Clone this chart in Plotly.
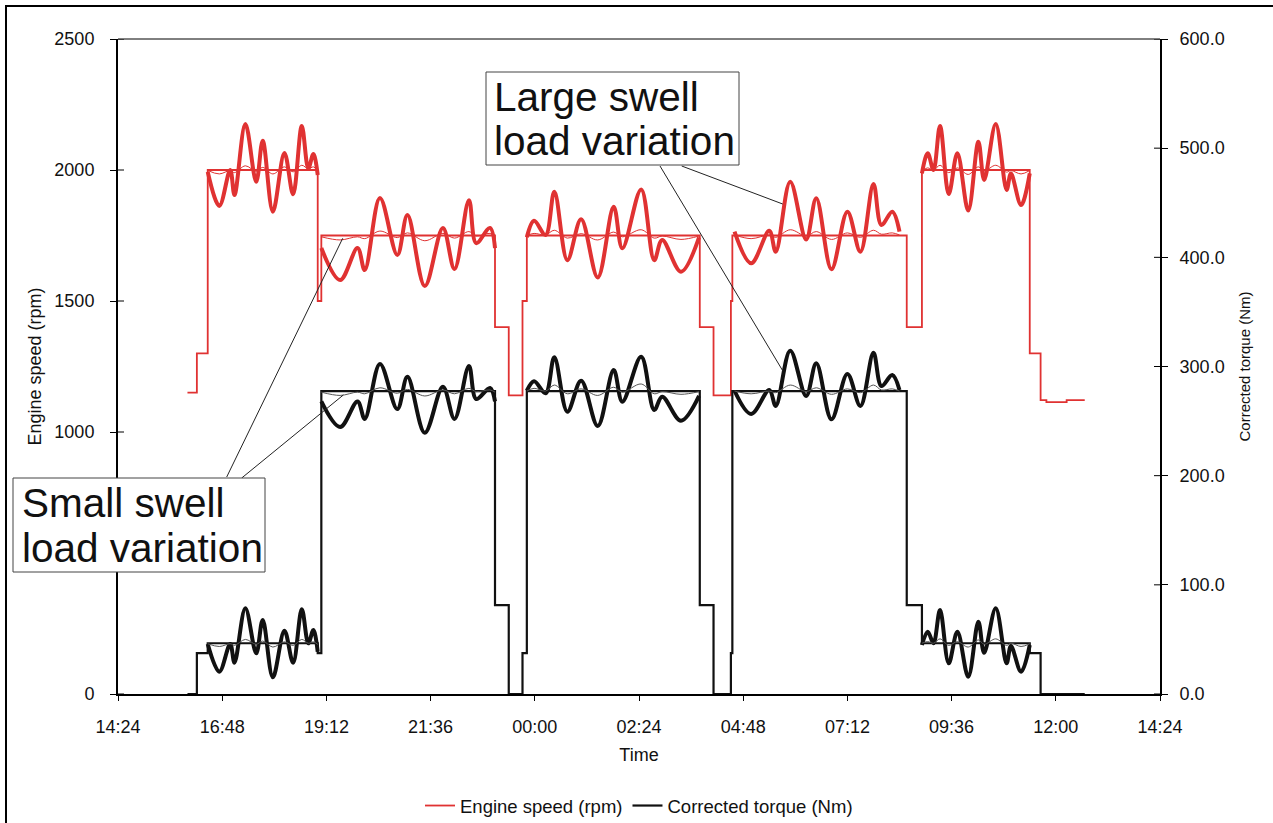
import datetime as dt
import plotly.graph_objects as go

# ---------------- data ----------------
TICK_LABELS = ["14:24", "16:48", "19:12", "21:36", "00:00", "02:24",
               "04:48", "07:12", "09:36", "12:00", "14:24"]
SPEED_TICKS = [0, 500, 1000, 1500, 2000, 2500]
SPEED_TICK_TEXT = ["0", "", "1000", "1500", "2000", "2500"]   # 500 sits under the callout box
TORQUE_TICKS = [0, 100, 200, 300, 400, 500, 600]

# set-point schedule (step changes)
STEP_TIME = ["16:00", "16:13", "16:28", "19:00", "19:05", "23:05", "23:24", "23:43",
             "23:49", "03:48", "04:07", "04:31", "04:33", "08:34", "08:55", "11:24",
             "11:39", "11:47", "12:15", "12:40"]
SPEED_STEP = [1150, 1300, 2000, 1500, 1750, 1400, 1140, 1500,
              1750, 1400, 1140, 1500, 1750, 1400, 2000, 1300,
              1122, 1114, 1122, 1122]
TORQUE_STEP = [0, 37.5, 46.5, 37.5, 277.5, 81.5, 0, 37.5,
               277.5, 81.5, 0, 37.5, 277.5, 81.5, 46.5, 37.5,
               0, 0, 0, 0]

# swell load variation, plateau A (2000 rpm)
TIME_A = ["16:28", "16:44", "16:59", "17:05", "17:20", "17:35", "17:44",
          "17:58", "18:14", "18:26", "18:38", "18:47", "18:54", "19:00"]
SPEED_LARGE_A = [1993, 1863, 2000, 1905, 2176, 1955, 2112, 1841, 2065, 1907, 2168, 2006, 2061, 1981]
SPEED_SMALL_A = [1998, 1985, 1998, 1990, 2016, 1995, 2010, 1985, 2012, 1993, 2018, 2004, 2012, 1998]
TORQUE_LARGE_A = [45.8, 20.4, 45.8, 28.7, 78.5, 37.3, 67.8, 15.3, 58.0, 28.7, 77.6, 46.4, 58.6, 38.7]
TORQUE_SMALL_A = [46.0, 43.5, 46.0, 44.5, 50.0, 45.5, 48.5, 43.0, 47.8, 44.5, 50.0, 46.5, 47.8, 45.5]

# plateau B (1750 rpm)
TIME_B = ["19:05", "19:31", "19:55", "20:05", "20:26", "20:50", "21:04",
          "21:28", "21:53", "22:09", "22:29", "22:39", "22:58", "23:05"]
SPEED_LARGE_B = [1702, 1580, 1702, 1618, 1893, 1676, 1828, 1557, 1779, 1622, 1885, 1721, 1779, 1702]
SPEED_SMALL_B = [1745, 1733, 1745, 1738, 1767, 1742, 1760, 1730, 1758, 1740, 1765, 1748, 1758, 1745]
TORQUE_LARGE_B = [268.0, 244.6, 268.0, 252.0, 302.4, 261.0, 290.6, 239.3, 281.4, 252.0, 300.5, 270.2, 280.3, 268.0]
TORQUE_SMALL_B = [276.5, 273.5, 276.5, 275.0, 280.5, 275.5, 279.0, 273.0, 278.5, 275.0, 280.0, 277.0, 278.5, 276.5]

# plateau C (1750 rpm)
TIME_C = ["23:49", "23:59", "00:15", "00:27", "00:45", "01:04", "01:27",
          "01:49", "02:01", "02:27", "02:45", "02:56", "03:22", "03:47"]
SPEED_LARGE_C = [1743, 1806, 1752, 1917, 1656, 1812, 1590, 1860, 1701, 1926, 1656, 1733, 1612, 1743]
SPEED_SMALL_C = [1750, 1758, 1752, 1770, 1740, 1757, 1733, 1763, 1745, 1772, 1740, 1748, 1735, 1748]
TORQUE_LARGE_C = [277.8, 286.5, 275.5, 308.4, 258.6, 287.0, 245.5, 296.8, 267.8, 309.0, 260.1, 272.3, 250.3, 273.0]
TORQUE_SMALL_C = [277.5, 280.0, 277.5, 283.0, 275.0, 279.5, 273.5, 281.0, 276.5, 284.0, 275.0, 277.0, 274.5, 277.0]

# plateau D (1750 rpm)
TIME_D = ["04:36", "04:59", "05:24", "05:33", "05:53", "06:15", "06:29",
          "06:50", "07:12", "07:30", "07:48", "07:59", "08:14", "08:24"]
SPEED_LARGE_D = [1765, 1644, 1768, 1688, 1955, 1735, 1892, 1621, 1841, 1688, 1947, 1790, 1841, 1765]
SPEED_SMALL_D = [1752, 1738, 1752, 1743, 1772, 1748, 1765, 1735, 1760, 1743, 1770, 1755, 1760, 1752]
TORQUE_LARGE_D = [277.8, 256.5, 278.5, 263.8, 314.5, 273.0, 302.9, 251.6, 293.1, 263.8, 312.6, 282.1, 292.2, 278.5]
TORQUE_SMALL_D = [277.5, 275.0, 277.5, 276.0, 283.0, 277.0, 280.5, 274.5, 279.5, 276.0, 283.0, 278.5, 279.5, 277.5]

# plateau E (2000 rpm)
TIME_E = ["08:55", "09:03", "09:11", "09:20", "09:32", "09:44", "09:59",
          "10:13", "10:21", "10:37", "10:52", "10:58", "11:12", "11:24"]
SPEED_LARGE_E = [1987, 2064, 2000, 2168, 1908, 2064, 1845, 2108, 1962, 2176, 1924, 1987, 1866, 1987]
SPEED_SMALL_E = [1998, 2008, 2000, 2018, 1990, 2008, 1983, 2012, 1996, 2018, 1992, 1998, 1985, 1998]
TORQUE_LARGE_E = [44.9, 57.1, 46.4, 76.9, 28.1, 57.1, 15.8, 66.2, 37.8, 78.5, 28.1, 44.0, 20.4, 44.9]
TORQUE_SMALL_E = [46.5, 48.0, 46.5, 50.5, 44.5, 48.0, 43.0, 49.5, 45.5, 50.5, 44.5, 46.5, 43.5, 46.0]

# ---------------- helpers ----------------
START = dt.datetime(2013, 5, 1, 14, 24)


def to_dt(hhmm):
    h, m = map(int, hhmm.split(":"))
    t = dt.datetime(2013, 5, 1, h, m)
    if t < START:
        t += dt.timedelta(days=1)
    return t


def join(times_list, values_list):
    xs, ys = [], []
    for times, vals in zip(times_list, values_list):
        xs += [to_dt(t) for t in times] + [None]
        ys += list(vals) + [None]
    return xs, ys


PLATEAU_TIMES = [TIME_A, TIME_B, TIME_C, TIME_D, TIME_E]

RED = "#e03232"
BLACK = "#111111"

fig = go.Figure()

# large swell (thick)
x, y = join(PLATEAU_TIMES, [SPEED_LARGE_A, SPEED_LARGE_B, SPEED_LARGE_C, SPEED_LARGE_D, SPEED_LARGE_E])
fig.add_trace(go.Scatter(x=x, y=y, mode="lines", line=dict(color=RED, width=4, shape="spline", smoothing=1.0),
                         showlegend=False, connectgaps=False, hoverinfo="skip"))
x, y = join(PLATEAU_TIMES, [TORQUE_LARGE_A, TORQUE_LARGE_B, TORQUE_LARGE_C, TORQUE_LARGE_D, TORQUE_LARGE_E])
fig.add_trace(go.Scatter(x=x, y=y, yaxis="y2", mode="lines",
                         line=dict(color=BLACK, width=4, shape="spline", smoothing=1.0),
                         showlegend=False, connectgaps=False, hoverinfo="skip"))

# set-point steps
step_x = [to_dt(t) for t in STEP_TIME]
fig.add_trace(go.Scatter(x=step_x, y=SPEED_STEP, mode="lines", name="Engine speed (rpm)",
                         line=dict(color=RED, width=1.8, shape="hv"), legendrank=1))
fig.add_trace(go.Scatter(x=step_x, y=TORQUE_STEP, yaxis="y2", mode="lines", name="Corrected torque (Nm)",
                         line=dict(color=BLACK, width=2.2, shape="hv"), legendrank=2))

# small swell (thin)
x, y = join(PLATEAU_TIMES, [SPEED_SMALL_A, SPEED_SMALL_B, SPEED_SMALL_C, SPEED_SMALL_D, SPEED_SMALL_E])
fig.add_trace(go.Scatter(x=x, y=y, mode="lines", line=dict(color=RED, width=1, shape="spline"),
                         showlegend=False, connectgaps=False, hoverinfo="skip"))
x, y = join(PLATEAU_TIMES, [TORQUE_SMALL_A, TORQUE_SMALL_B, TORQUE_SMALL_C, TORQUE_SMALL_D, TORQUE_SMALL_E])
fig.add_trace(go.Scatter(x=x, y=y, yaxis="y2", mode="lines", line=dict(color="#555555", width=1, shape="spline"),
                         showlegend=False, connectgaps=False, hoverinfo="skip"))

# ---------------- layout ----------------
W, H = 1273, 823
L, T, R, B = 118, 39, 1160, 694
PW, PH = R - L, B - T


def px(xp):
    return (xp - L) / PW


def py(yp):
    return (B - yp) / PH


tick_dates = [START + dt.timedelta(minutes=144 * i) for i in range(len(TICK_LABELS))]
FONT = "Liberation Sans, Arial, sans-serif"

fig.update_layout(
    width=W, height=H,
    margin=dict(l=L, r=W - R, t=T, b=H - B, pad=0, autoexpand=False),
    paper_bgcolor="white", plot_bgcolor="white",
    font=dict(family=FONT, size=17, color="#111111"),
    xaxis=dict(type="date", range=[tick_dates[0], tick_dates[-1]],
               tickmode="array", tickvals=tick_dates, ticktext=TICK_LABELS,
               ticks="outside", ticklen=5, tickwidth=1, tickcolor="black",
               showline=True, linewidth=2, linecolor="black",
               showgrid=False, zeroline=False, tickfont=dict(size=18),
               ticklabelstandoff=10, automargin=False,
               title=dict(text="Time", font=dict(size=18), standoff=13)),
    yaxis=dict(range=[0, 2500], tickmode="array", tickvals=SPEED_TICKS, ticktext=SPEED_TICK_TEXT,
               ticks="outside", ticklen=6, tickwidth=1, tickcolor="black",
               showline=True, linewidth=2, linecolor="black",
               showgrid=False, zeroline=False, tickfont=dict(size=18),
               ticklabelstandoff=12, automargin=False,
               title=dict(text="Engine speed (rpm)", font=dict(size=18), standoff=8)),
    yaxis2=dict(range=[0, 600], tickmode="array", tickvals=TORQUE_TICKS, tickformat=".1f",
                overlaying="y", side="right",
                ticks="outside", ticklen=6, tickwidth=1, tickcolor="black",
                showline=True, linewidth=2, linecolor="black",
                showgrid=False, zeroline=False, tickfont=dict(size=18),
                ticklabelstandoff=8, automargin=False,
                title=dict(text="Corrected torque (Nm)", font=dict(size=15), standoff=16)),
    legend=dict(orientation="h", x=0.5, xanchor="center", y=py(806), yanchor="middle",
                font=dict(size=18.5), bgcolor="rgba(0,0,0,0)", itemwidth=30,
                traceorder="normal"),
)

shapes = []
# inward half of the crossing tick marks
for v in SPEED_TICKS:
    shapes.append(dict(type="line", xref="paper", xsizemode="pixel", xanchor=0, x0=0, x1=6,
                       yref="y", y0=v, y1=v, line=dict(color="black", width=1)))
for v in TORQUE_TICKS:
    shapes.append(dict(type="line", xref="paper", xsizemode="pixel", xanchor=1, x0=-6, x1=0,
                       yref="y2", y0=v, y1=v, line=dict(color="black", width=1)))
# top edge of plot area
shapes.append(dict(type="line", xref="paper", yref="paper", x0=0, x1=1, y0=1, y1=1,
                   line=dict(color="black", width=1)))
# leader lines
for (x0, y0, x1, y1) in [(660, 166, 782.7, 370.7), (681.7, 166, 782.7, 204),
                         (226.7, 477, 342.7, 238.3), (241.7, 478, 343.3, 395)]:
    shapes.append(dict(type="line", xref="paper", yref="paper", x0=px(x0), y0=py(y0),
                       x1=px(x1), y1=py(y1), line=dict(color="#222222", width=1), layer="above"))
# callout boxes
for (x0, y0, x1, y1) in [(486, 72, 739, 165), (13, 478, 265, 572)]:
    shapes.append(dict(type="rect", xref="paper", yref="paper", x0=px(x0), y0=py(y0),
                       x1=px(x1), y1=py(y1), line=dict(color="#444444", width=1),
                       fillcolor="white", layer="above"))
# outer frame
shapes.append(dict(type="rect", xref="paper", yref="paper", x0=px(6), y0=py(850),
                   x1=px(1290), y1=py(6), line=dict(color="black", width=2), layer="above"))
fig.update_layout(shapes=shapes)

annotations = []
for text, xl, yc in [("Large swell", 492, 97), ("load variation", 492, 141),
                     ("Small swell", 20, 503), ("load variation", 20, 548)]:
    annotations.append(dict(text=text, xref="paper", yref="paper", x=px(xl), y=py(yc),
                            xanchor="left", yanchor="middle", showarrow=False,
                            font=dict(family=FONT, size=40.5, color="#111111")))
fig.update_layout(annotations=annotations)

fig.write_html("out.html")
